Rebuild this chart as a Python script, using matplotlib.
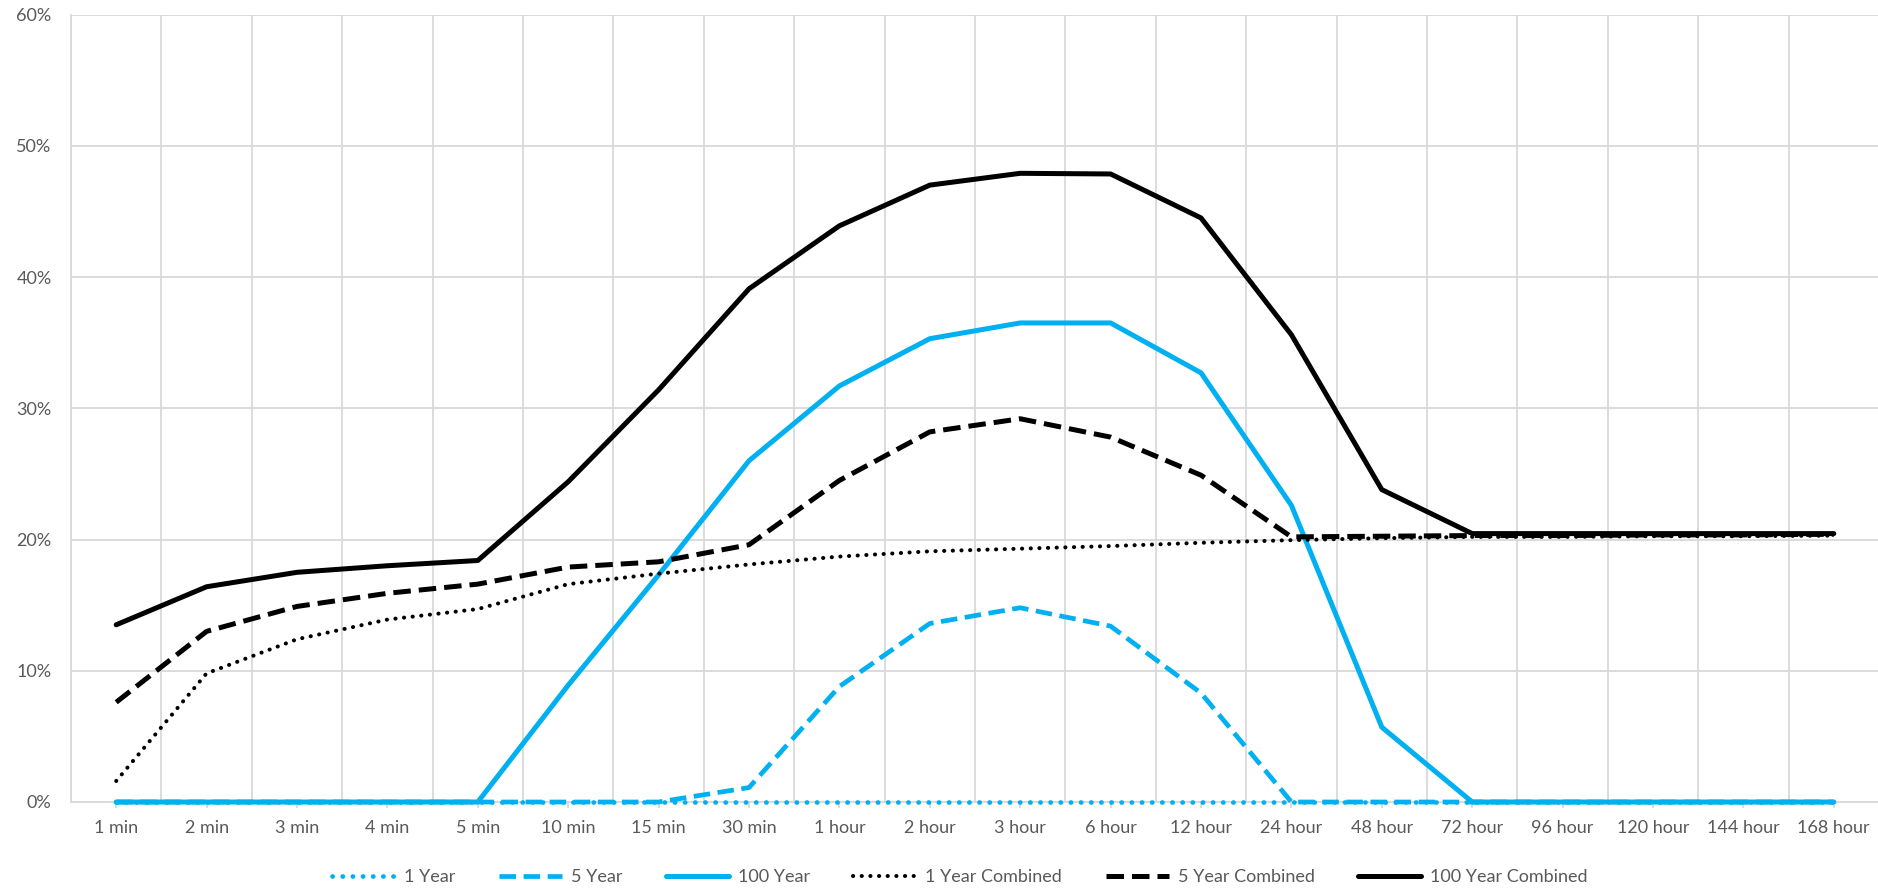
import matplotlib.pyplot as plt
import numpy as np
from matplotlib.ticker import PercentFormatter

plt.rcParams['font.family'] = ['Lato', 'DejaVu Sans']

durations = ['1 min', '2 min', '3 min', '4 min', '5 min', '10 min', '15 min', '30 min',
             '1 hour', '2 hour', '3 hour', '6 hour', '12 hour', '24 hour', '48 hour',
             '72 hour', '96 hour', '120 hour', '144 hour', '168 hour']

# values in %
yr1 = [0, 0, 0, 0, 0, 0, 0, 0, 0, 0, 0, 0, 0, 0, 0, 0, 0, 0, 0, 0]
yr5 = [0, 0, 0, 0, 0, 0, 0, 1.1, 8.8, 13.6, 14.8, 13.4, 8.3, 0, 0, 0, 0, 0, 0, 0]
yr100 = [0, 0, 0, 0, 0, 8.9, 17.3, 26.0, 31.7, 35.3, 36.5, 36.5, 32.7, 22.6, 5.7, 0, 0, 0, 0, 0]
yr1_comb = [1.6, 9.8, 12.4, 13.9, 14.7, 16.6, 17.4, 18.1, 18.7, 19.1, 19.3, 19.5, 19.75, 19.95,
            20.1, 20.2, 20.2, 20.25, 20.25, 20.3]
yr5_comb = [7.6, 13.0, 14.9, 15.9, 16.6, 17.9, 18.3, 19.6, 24.5, 28.2, 29.2, 27.8, 24.9, 20.2,
            20.25, 20.3, 20.3, 20.35, 20.35, 20.4]
yr100_comb = [13.5, 16.4, 17.5, 18.0, 18.4, 24.4, 31.4, 39.1, 43.9, 47.0, 47.9, 47.85, 44.5, 35.6,
              23.8, 20.45, 20.45, 20.45, 20.45, 20.45]

blue = '#00B0F0'
grid_c = '#D9D9D9'
text_c = '#595959'

fig = plt.figure(figsize=(18.78, 8.9), dpi=100)
ax = fig.add_axes([71 / 1878, 1 - 802 / 890, 1808 / 1878, (802 - 14.5) / 890])

x = np.arange(len(durations))
dot = (0, (0.05, 2.1))
dash = (0, (3.5, 1.6))

ax.plot(x, yr1, color=blue, lw=3.4, linestyle=dot, dash_capstyle='round', label='1 Year',
        clip_on=False, zorder=3)
ax.plot(x, yr5, color=blue, lw=3.4, linestyle=dash, label='5 Year', clip_on=False, zorder=3)
ax.plot(x, yr100, color=blue, lw=3.6, solid_capstyle='round', label='100 Year',
        clip_on=False, zorder=3)
ax.plot(x, yr1_comb, color='black', lw=2.9, linestyle=dot, dash_capstyle='round',
        label='1 Year Combined', zorder=3)
ax.plot(x, yr5_comb, color='black', lw=3.6, linestyle=dash, label='5 Year Combined', zorder=3)
ax.plot(x, yr100_comb, color='black', lw=3.6, solid_capstyle='round', label='100 Year Combined',
        zorder=3)

ax.set_xlim(-0.5, len(durations) - 0.5)
ax.set_ylim(0, 60)
ax.set_yticks(np.arange(0, 61, 10))
ax.yaxis.set_major_formatter(PercentFormatter(decimals=0))
ax.set_xticks(x)
ax.set_xticklabels(durations)
ax.set_xticks(np.arange(-0.5, len(durations), 1), minor=True)

ax.grid(True, axis='y', which='major', color=grid_c, lw=1.3)
ax.grid(True, axis='x', which='minor', color=grid_c, lw=1.3)
ax.grid(False, axis='x', which='major')
ax.set_axisbelow(True)

for s in ['top', 'right']:
    ax.spines[s].set_visible(False)
ax.spines['left'].set_color(grid_c)
ax.spines['left'].set_linewidth(1.3)
ax.spines['bottom'].set_color(grid_c)
ax.spines['bottom'].set_linewidth(1.3)

ax.tick_params(axis='x', which='major', length=4, width=1.3, color=grid_c, pad=9,
               labelsize=13, labelcolor=text_c)
ax.tick_params(axis='x', which='minor', length=0)
ax.tick_params(axis='y', length=0, pad=14, labelsize=13, labelcolor=text_c)

leg = fig.legend(loc='center', bbox_to_anchor=(0.511, 1 - 877 / 890), ncol=6, frameon=False,
                 fontsize=13, handlelength=3.5, handletextpad=0.5, columnspacing=2.4)
for t in leg.get_texts():
    t.set_color(text_c)

plt.savefig('out.png', dpi=100)
